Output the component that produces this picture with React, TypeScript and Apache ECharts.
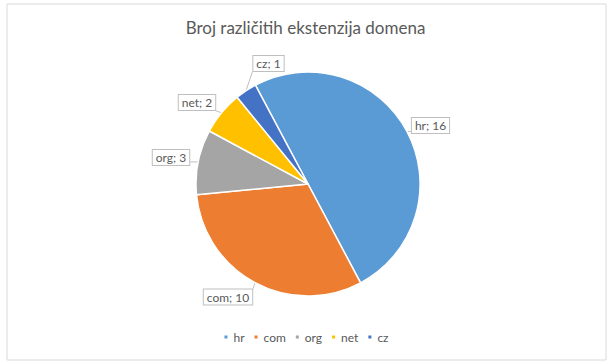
import React, { useEffect, useRef } from "react";
import * as echarts from "echarts";

const title = "Broj različitih ekstenzija domena";
const categories = ["hr", "com", "org", "net", "cz"];
const values = [16, 10, 3, 2, 1];
const colors = ["#5B9BD5", "#ED7D31", "#A5A5A5", "#FFC000", "#4472C4"];

// Label box centres (as placed in the original callout layout)
const labelCentres: Record<string, [number, number]> = {
  hr: [430.5, 125.5],
  com: [228, 297],
  org: [171, 157.5],
  net: [197, 102.5],
  cz: [268.5, 63.5],
};

export default function App() {
  const ref = useRef<HTMLDivElement>(null);
  useEffect(() => {
    if (!ref.current) return;
    const chart = echarts.init(ref.current, undefined, { renderer: "svg" });
    const font = "Lato, 'Open Sans', sans-serif";
    chart.setOption({
      animation: false,
      backgroundColor: "#ffffff",
      color: colors,
      title: {
        text: title,
        left: "center",
        top: 14,
        textStyle: { color: "#595959", fontSize: 17, fontWeight: "normal", fontFamily: font },
      },
      legend: {
        bottom: 15,
        left: "center",
        icon: "rect",
        itemWidth: 5,
        itemHeight: 5,
        itemGap: 8,
        textStyle: { color: "#595959", fontSize: 12, fontFamily: font },
        data: categories,
      },
      graphic: [
        {
          type: "rect",
          shape: { x: 7, y: 4, width: 599, height: 356 },
          style: { fill: "none", stroke: "#d9d9d9", lineWidth: 1 },
          silent: true,
        },
      ],
      series: [
        {
          type: "pie",
          center: [308, 184],
          radius: 112,
          startAngle: 118,
          clockwise: true,
          avoidLabelOverlap: false,
          itemStyle: { borderColor: "#ffffff", borderWidth: 1.5 },
          label: {
            show: true,
            position: "outside",
            formatter: "{b}; {c}",
            color: "#595959",
            fontSize: 12,
            fontFamily: font,
            backgroundColor: "#ffffff",
            borderColor: "#bfbfbf",
            borderWidth: 1,
            padding: [2, 3, 1, 3],
          },
          labelLine: {
            show: true,
            length: 6,
            length2: 4,
            lineStyle: { color: "#bfbfbf", width: 1 },
          },
          labelLayout: (params: any) => {
            const name = categories[params.dataIndex];
            const c = labelCentres[name];
            const r = params.labelRect;
            const pts = params.labelLinePoints;
            if (!c || !r || !pts) return {};
            const w = r.width;
            const h = r.height;
            const edge = pts[0];
            const x0 = c[0] - w / 2;
            const x1 = c[0] + w / 2;
            const y0 = c[1] - h / 2;
            const y1 = c[1] + h / 2;
            const tx = Math.min(Math.max(edge[0], x0), x1);
            const ty = Math.min(Math.max(edge[1], y0), y1);
            return {
              x: c[0],
              y: c[1],
              align: "center",
              verticalAlign: "middle",
              labelLinePoints: [
                [edge[0], edge[1]],
                [(edge[0] + tx) / 2, (edge[1] + ty) / 2],
                [tx, ty],
              ],
            };
          },
          data: categories.map((c, i) => ({ name: c, value: values[i] })),
        },
      ],
    });
    return () => chart.dispose();
  }, []);
  return (
    <div
      ref={ref}
      style={{ position: "fixed", left: 0, top: 0, width: 611, height: 363 }}
    />
  );
}
